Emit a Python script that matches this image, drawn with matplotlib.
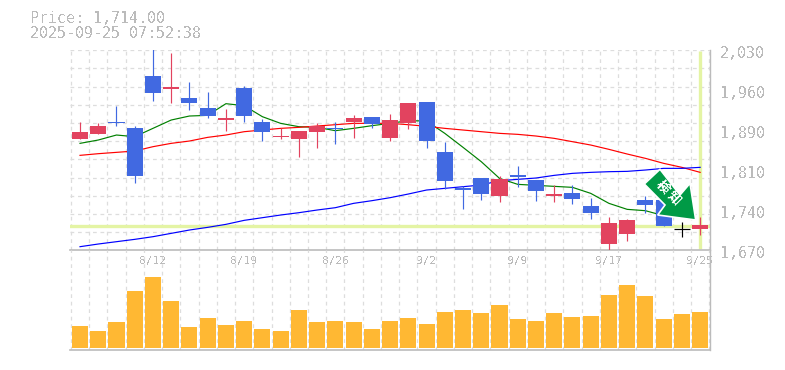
import matplotlib
matplotlib.use('Agg')
import matplotlib.pyplot as plt
from matplotlib.patches import Polygon
import numpy as np

# candles
opens = [1870.3, 1879.3, 1901.0, 1890.1, 1983.7, 1960.3, 1944.1, 1926.1, 1904.5, 1962.1, 1900.9, 1873.9,
         1870.3, 1882.9, 1890.5, 1900.9, 1909.9, 1872.1, 1899.1, 1936.9, 1846.9, 1782.1, 1800.1, 1767.7,
         1805.5, 1796.5, 1767.7, 1773.1, 1749.7, 1681.3, 1699.3, 1760.5, 1760.5, 1708.3, 1708.3]
closes = [1882.9, 1893.7, 1899.0, 1803.7, 1953.1, 1963.9, 1935.1, 1911.7, 1908.1, 1911.7, 1882.9, 1875.7,
          1884.7, 1893.7, 1889.0, 1908.1, 1897.3, 1904.5, 1935.1, 1866.7, 1794.7, 1778.5, 1771.3, 1798.3,
          1801.9, 1776.7, 1771.3, 1762.3, 1737.1, 1719.1, 1724.5, 1751.5, 1713.7, 1708.3, 1715.5]
highs = [1900.9, 1899.1, 1929.7, 1893.7, 2040.0, 2025.1, 1972.9, 1954.9, 1924.3, 1965.7, 1906.3, 1890.1,
         1884.7, 1899.1, 1900.9, 1913.5, 1909.9, 1915.3, 1935.1, 1936.9, 1864.9, 1785.7, 1800.1, 1803.7,
         1821.7, 1796.5, 1787.5, 1787.5, 1764.1, 1729.9, 1726.3, 1767.7, 1760.5, 1720.9, 1729.9]
lows = [1870.3, 1879.3, 1893.7, 1791.1, 1938.7, 1935.1, 1922.5, 1908.1, 1884.7, 1900.9, 1866.7, 1870.3,
        1837.9, 1854.1, 1861.3, 1872.1, 1890.1, 1866.7, 1888.3, 1854.1, 1780.3, 1744.3, 1760.5, 1756.9,
        1783.9, 1758.7, 1756.9, 1753.3, 1726.3, 1668.7, 1686.7, 1737.1, 1713.7, 1693.9, 1697.5]

# moving averages
ma_short = [1862.5, 1868.5, 1877.5, 1874.5, 1889.5, 1904.5, 1911.7, 1912.9, 1933.9, 1930.3, 1910.5, 1898.5,
            1892.5, 1891.3, 1885.3, 1889.5, 1894.3, 1898.5, 1903.3, 1902.7, 1880.5, 1855.3, 1829.5, 1799.5,
            1788.7, 1786.9, 1785.1, 1783.3, 1772.5, 1754.5, 1743.7, 1741.3, 1732.3]
ma_mid = [1840.9, 1843.9, 1846.3, 1848.7, 1856.5, 1862.5, 1866.7, 1873.3, 1877.5, 1883.5, 1886.5, 1889.5,
          1891.3, 1893.7, 1896.1, 1898.5, 1898.5, 1898.5, 1896.1, 1893.1, 1889.5, 1886.5, 1883.5, 1880.5,
          1878.7, 1875.7, 1871.5, 1865.5, 1859.5, 1851.7, 1843.3, 1835.5, 1826.5, 1819.3, 1810.3]
ma_long = [1676.5, 1681.3, 1685.5, 1689.7, 1694.5, 1700.5, 1706.5, 1711.3, 1716.7, 1723.9, 1728.7, 1733.5,
           1737.7, 1742.5, 1746.7, 1754.5, 1759.3, 1764.7, 1771.3, 1778.5, 1781.5, 1784.5, 1787.5, 1795.3,
           1797.7, 1800.1, 1804.9, 1808.5, 1810.3, 1811.5, 1812.1, 1814.5, 1817.5, 1817.5, 1819.3]

volumes = [22, 17, 26, 57, 71, 47, 21, 30, 23, 27, 19, 17, 38, 26, 27, 26, 19, 27,
           30, 24, 36, 38, 35, 43, 29, 27, 35, 31, 32, 53, 63, 52, 29, 34, 36]

price_now = 1714
price_labels = ['1,670', '1,740', '1,810', '1,890', '1,960', '2,030']
date_pos = [4, 9, 14, 19, 24, 29, 34]
date_labels = ['8/12', '8/19', '8/26', '9/2', '9/9', '9/17', '9/25']

RED = '#e2435f'
BLUE = '#4169e1'
PALE = '#e4f4a4'
GREY = '#bbbbbb'
GRID = '#dddddd'
FONT = 'DejaVu Sans Mono'
W, H = 785, 370

plt.rcParams['text.antialiased'] = False


def box(left, top, right, bottom):
    return [left / W, 1 - bottom / H, (right - left) / W, (bottom - top) / H]


fig = plt.figure(figsize=(W / 100, H / 100), dpi=100)
ax = fig.add_axes(box(70, 50.3, 710, 250.3))
ax_vol = fig.add_axes(box(70, 250.3, 710, 350))

n = len(opens)
xs = np.arange(n)
xlim = (-0.548, 34.54)

ax.set_xlim(xlim)
ax.set_ylim(1670, 2030)
ax_vol.set_xlim(xlim)
ax_vol.set_ylim(-2, 97.7)

# dashed grid
for a in (ax, ax_vol):
    for g in np.arange(n + 1) - 0.5:
        a.axvline(g, color=GRID, lw=0.9, ls=(0, (3, 3)), zorder=1)
for g in np.linspace(1670, 2030, 12)[1:]:
    ax.axhline(g, color=GRID, lw=0.9, ls=(0, (3, 3)), zorder=1)

# current price cross
ax.axhline(price_now, color=PALE, lw=2.4, zorder=2)
ax.plot([34, 34], [1671.5, 2029], color=PALE, lw=2.4, zorder=2, solid_capstyle='butt')

# averages go under the candles
ax.plot(xs[:len(ma_short)], ma_short, color='#008000', lw=0.85, zorder=3)
ax.plot(xs, ma_mid, color='#ff0000', lw=0.85, zorder=3)
ax.plot(xs, ma_long, color='#0000ff', lw=0.85, zorder=3)

for i in range(n):
    if closes[i] > opens[i]:
        c = RED
    elif closes[i] < opens[i]:
        c = BLUE
    else:
        c = 'black'
    ax.vlines(i, lows[i], highs[i], color=c, lw=0.85, zorder=4)
    if c == 'black':
        ax.hlines(opens[i], i - 0.44, i + 0.44, color=c, lw=0.85, zorder=4)
    else:
        ax.bar(i, closes[i] - opens[i], bottom=opens[i], width=0.88, color=c, lw=0, zorder=4)

ax_vol.bar(xs, volumes, width=0.88, color='#ffb833', lw=0, zorder=3)

for a in (ax, ax_vol):
    a.set_xticks([])
    a.set_yticks([])
    a.patch.set_visible(False)
    for s in a.spines.values():
        s.set_visible(False)
    a.spines['right'].set_visible(True)
    a.spines['right'].set_color(GREY)
    a.spines['right'].set_linewidth(1)
    a.spines['bottom'].set_visible(True)
    a.spines['bottom'].set_color(GREY)
    a.spines['bottom'].set_linewidth(1.2)

for v, lab in zip(np.linspace(1670, 2030, 6), price_labels):
    ax.annotate(lab, (1, v), xycoords=ax.get_yaxis_transform(), xytext=(7.2, -2.2),
                textcoords='offset points', va='center', ha='left',
                color=GREY, fontsize=10.8, family=FONT, annotation_clip=False)
for p, lab in zip(date_pos, date_labels):
    ax.annotate(lab, (p, 0), xycoords=ax.get_xaxis_transform(), xytext=(0, -7.4),
                textcoords='offset points', va='center', ha='center',
                color=GREY, fontsize=8, family=FONT, annotation_clip=False)

fig.text(30 / W, 1 - 18.5 / H, 'Price: 1,714.00', color=GREY, fontsize=10.8, family=FONT, va='center')
fig.text(30 / W, 1 - 33 / H, '2025-09-25 07:52:38', color=GREY, fontsize=10.8, family=FONT, va='center')

# signal arrow, placed in pixels
arrow_px = [(660, 169.3), (644.3, 184), (665, 205), (657.7, 215), (695.7, 220), (690, 183.3), (680, 195)]
arrow_fig = [(x / W, 1 - y / H) for x, y in arrow_px]
fig.add_artist(Polygon(arrow_fig, closed=True, transform=fig.transFigure, facecolor='#009a46',
                       edgecolor='white', lw=1.2, zorder=10))
fig.text(663 / W, 1 - 187 / H, '検', color='white', fontsize=9.5, rotation=-45, rotation_mode='anchor',
         family='Noto Sans CJK JP', weight='bold', ha='center', va='center', zorder=11)
fig.text(674 / W, 1 - 197.5 / H, '知', color='white', fontsize=9.5, rotation=-45, rotation_mode='anchor',
         family='Noto Sans CJK JP', weight='bold', ha='center', va='center', zorder=11)

fig.savefig('out.png', dpi=100)
